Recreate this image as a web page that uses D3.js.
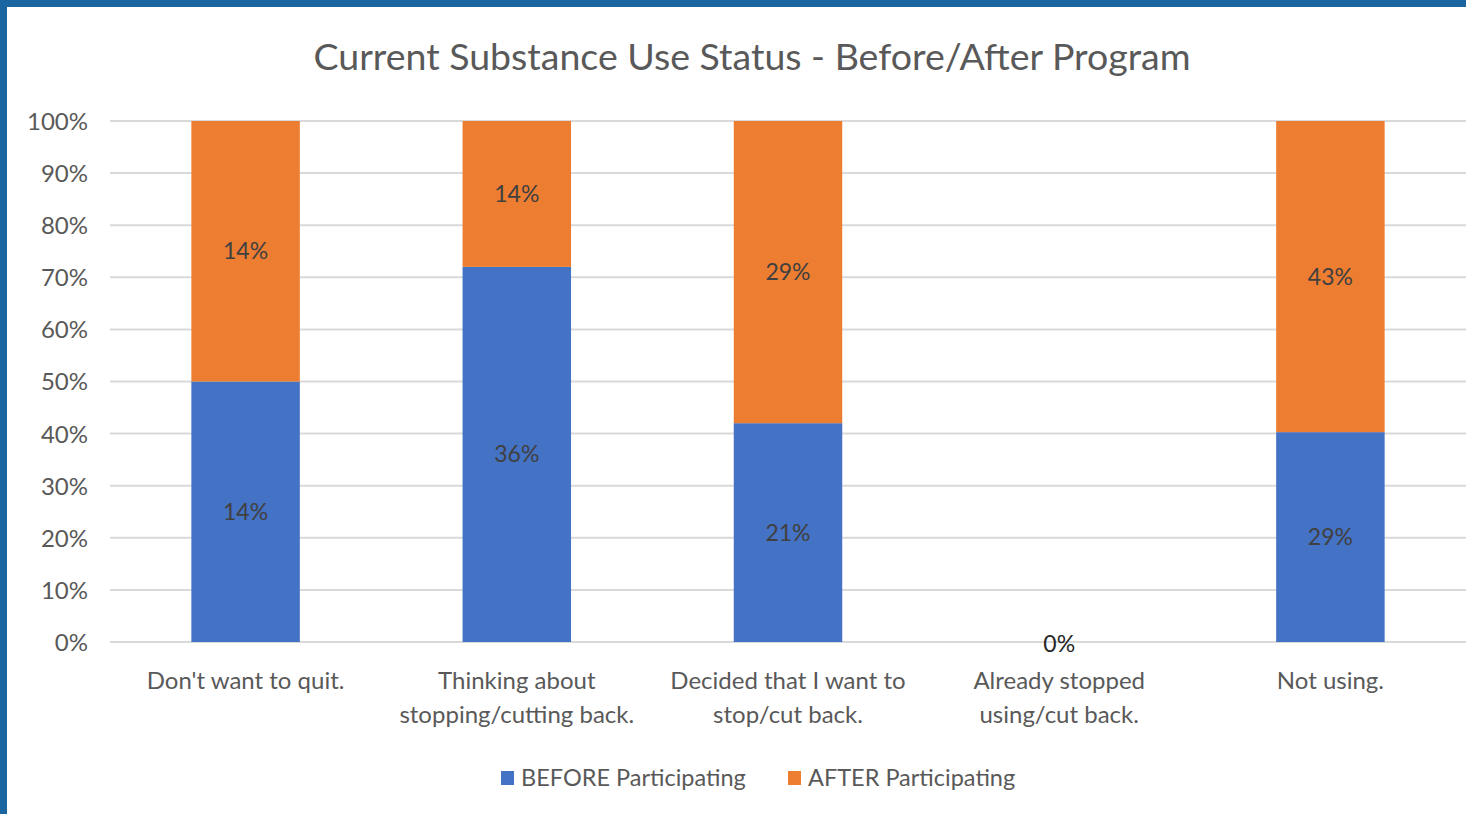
<!DOCTYPE html>
<html>
<head>
<meta charset="utf-8">
<script src="https://cdn.jsdelivr.net/npm/d3@7"></script>
<style>
  html, body { margin: 0; padding: 0; background: #fff; }
  svg { display: block; }
  text { font-family: Lato, "Open Sans", sans-serif; }
</style>
</head>
<body>
<svg id="chart" width="1466" height="814"></svg>
<script>
const categories = ["Don't want to quit.", "Thinking about\nstopping/cutting back.", "Decided that I want to\nstop/cut back.", "Already stopped\nusing/cut back.", "Not using."];
const seriesNames = ["BEFORE Participating", "AFTER Participating"];
const beforeValues = [14, 36, 21, 0, 29];
const afterValues = [14, 14, 29, 0, 43];
const yTicks = [0, 0.1, 0.2, 0.3, 0.4, 0.5, 0.6, 0.7, 0.8, 0.9, 1.0];
const colors = ["#4472C4", "#ED7D31"];

const W = 1466, H = 814;
const svg = d3.select("#chart");

// frame
svg.append("rect").attr("x", 0).attr("y", 0).attr("width", W).attr("height", H).attr("fill", "#fff");
svg.append("rect").attr("x", 0).attr("y", 0).attr("width", W).attr("height", 7).attr("fill", "#1B65A0");
svg.append("rect").attr("x", 0).attr("y", 0).attr("width", 7).attr("height", H).attr("fill", "#1B65A0");

const margin = { left: 110, right: 0, top: 121, bottom: 172 };
const x = d3.scaleBand().domain(categories).range([margin.left, W]).paddingInner(0.6).paddingOuter(0.3);
const y = d3.scaleLinear().domain([0, 1]).range([642, 121]);

const data = categories.map((c, i) => {
  const tot = beforeValues[i] + afterValues[i];
  return { cat: c, before: beforeValues[i], after: afterValues[i],
           pb: tot ? beforeValues[i] / tot : 0, pa: tot ? afterValues[i] / tot : 0 };
});

// gridlines
svg.append("g").selectAll("line").data(yTicks).join("line")
  .attr("x1", margin.left).attr("x2", W)
  .attr("y1", d => y(d)).attr("y2", d => y(d))
  .attr("stroke", "#D9D9D9").attr("stroke-width", 2);

// y axis labels
const yAxis = d3.axisLeft(y).tickValues(yTicks).tickFormat(d3.format(".0%")).tickSize(0).tickPadding(22);
const yg = svg.append("g").attr("transform", `translate(${margin.left},0)`).call(yAxis);
yg.select(".domain").remove();
yg.selectAll("text").attr("fill", "#595959").style("font-size", "24px").attr("dy", "0.35em");

// stacked bars
const stack = d3.stack().keys(["pb", "pa"]);
const layers = stack(data);
layers.forEach((layer, li) => {
  svg.append("g").selectAll("rect").data(layer).join("rect")
    .attr("x", d => x(d.data.cat))
    .attr("width", x.bandwidth())
    .attr("y", d => y(d[1]))
    .attr("height", d => y(d[0]) - y(d[1]))
    .attr("fill", colors[li]);
});

// data labels
const keys = ["before", "after"];
layers.forEach((layer, li) => {
  svg.append("g").selectAll("text").data(layer).join("text")
    .attr("x", d => x(d.data.cat) + x.bandwidth() / 2)
    .attr("y", d => (d[1] - d[0]) > 0 ? (y(d[0]) + y(d[1])) / 2 : y(d[0]))
    .attr("dy", "0.35em")
    .attr("text-anchor", "middle")
    .attr("fill", "#404040")
    .style("font-size", "23px")
    .text(d => (d[1] - d[0]) > 0 ? d.data[keys[li]] + "%" : "");
});
// zero label for empty category
svg.append("g").selectAll("text").data(data.filter(d => d.before + d.after === 0)).join("text")
  .attr("x", d => x(d.cat) + x.bandwidth() / 2)
  .attr("y", y(0) + 2)
  .attr("dy", "0.35em")
  .attr("text-anchor", "middle")
  .attr("fill", "#262626")
  .style("font-size", "23px")
  .text(d => d.before + "%");

// x axis labels
const xg = svg.append("g");
categories.forEach(c => {
  const lines = c.split("\n");
  const t = xg.append("text")
    .attr("x", x(c) + x.bandwidth() / 2)
    .attr("y", 689)
    .attr("text-anchor", "middle")
    .attr("fill", "#595959")
    .style("font-size", "24px");
  lines.forEach((ln, i) => {
    t.append("tspan").attr("x", x(c) + x.bandwidth() / 2).attr("dy", i === 0 ? 0 : 34).text(ln);
  });
});

// title
svg.append("text").attr("x", 752).attr("y", 70).attr("text-anchor", "middle")
  .attr("fill", "#595959").style("font-size", "37.5px")
  .text("Current Substance Use Status - Before/After Program");

// legend
const legendItems = [{ name: seriesNames[0], x: 501, c: colors[0] }, { name: seriesNames[1], x: 788, c: colors[1] }];
const lg = svg.append("g");
legendItems.forEach(it => {
  lg.append("rect").attr("x", it.x).attr("y", 771).attr("width", 13).attr("height", 14).attr("fill", it.c);
  lg.append("text").attr("x", it.x + 20).attr("y", 786).attr("fill", "#595959")
    .style("font-size", "23.5px").text(it.name);
});
</script>
</body>
</html>
